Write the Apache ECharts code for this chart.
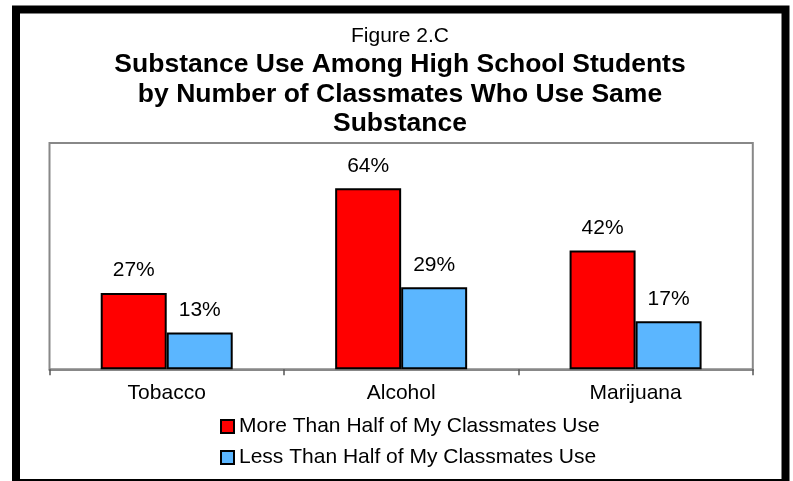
<!DOCTYPE html>
<html>
<head>
<meta charset="utf-8">
<script src="https://cdn.jsdelivr.net/npm/echarts@6/dist/echarts.min.js"></script>
<style>
html,body{margin:0;padding:0;background:#fff;}
#chart{width:793px;height:481px;}
</style>
</head>
<body>
<div id="chart"></div>
<script>
const categories = ['Tobacco', 'Alcohol', 'Marijuana'];
const seriesNames = ['More Than Half of My Classmates Use', 'Less Than Half of My Classmates Use'];
const moreThanHalf = [27, 64, 42];
const lessThanHalf = [13, 29, 17];
const figureLabel = 'Figure 2.C';
const mainTitle = 'Substance Use Among High School Students\nby Number of Classmates Who Use Same\nSubstance';

const FONT = '"Liberation Sans", Arial, sans-serif';
const chart = echarts.init(document.getElementById('chart'), null, {renderer: 'canvas'});

const labelStyle = {
  show: true,
  position: 'top',
  distance: 12,
  color: '#000',
  fontSize: 21,
  lineHeight: 21,
  fontFamily: FONT,
  formatter: p => p.value + '%'
};

chart.setOption({
  backgroundColor: '#fff',
  animation: false,
  title: [
    {
      text: figureLabel,
      left: 400,
      top: 26,
      textAlign: 'center',
      padding: 0,
      textStyle: {fontSize: 21, lineHeight: 21, fontWeight: 'normal', color: '#000', fontFamily: FONT}
    },
    {
      text: mainTitle,
      left: 400,
      top: 50,
      textAlign: 'center',
      padding: 0,
      textStyle: {fontSize: 26.5, lineHeight: 29.6, fontWeight: 'bold', color: '#000', fontFamily: FONT}
    }
  ],
  graphic: [
    {
      type: 'rect',
      silent: true,
      shape: {x: 16, y: 9.5, width: 769.5, height: 473.5},
      style: {fill: null, stroke: '#000', lineWidth: 8}
    }
  ],
  legend: {
    orient: 'vertical',
    left: 220,
    top: 416,
    padding: 0,
    itemWidth: 13,
    itemHeight: 13,
    itemGap: 10,
    icon: 'rect',
    textStyle: {fontSize: 21, lineHeight: 21, color: '#000', fontFamily: FONT},
    data: seriesNames
  },
  grid: {
    left: 49.5,
    right: 40.2,
    top: 143,
    bottom: 111.7,
    show: true,
    borderColor: '#888',
    borderWidth: 2,
    containLabel: false
  },
  xAxis: {
    type: 'category',
    data: categories,
    axisLine: {show: true, lineStyle: {color: '#888', width: 2}},
    axisTick: {show: true, length: 6, lineStyle: {color: '#555', width: 1.5}},
    axisLabel: {color: '#000', fontSize: 21, fontFamily: FONT, margin: 13}
  },
  yAxis: {
    type: 'value',
    min: 0,
    max: 80,
    show: false,
    splitLine: {show: false}
  },
  series: [
    {
      name: seriesNames[0],
      type: 'bar',
      data: moreThanHalf,
      barWidth: 66,
      barGap: '0%',
      itemStyle: {color: '#FF0000', borderColor: '#000', borderWidth: 2},
      label: labelStyle
    },
    {
      name: seriesNames[1],
      type: 'bar',
      data: lessThanHalf,
      barWidth: 66,
      barGap: '0%',
      itemStyle: {color: '#5BB6FF', borderColor: '#000', borderWidth: 2},
      label: labelStyle
    }
  ]
});
</script>
</body>
</html>
